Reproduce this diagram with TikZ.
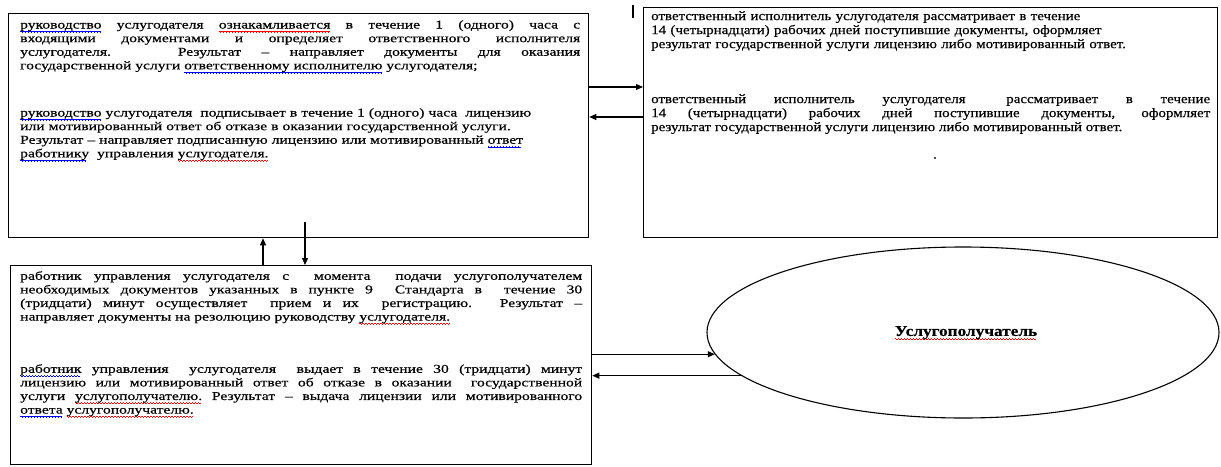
\documentclass[tikz,border=0pt]{standalone}
\usepackage{fontspec}
\setmainfont[FakeStretch=1.3,FakeBold=0.5]{Liberation Serif}
\newfontfamily\bfam[FakeStretch=1.15,FakeBold=0.5]{Liberation Serif}
\usepackage{xcolor}
\usetikzlibrary{arrows.meta,shapes.geometric}
\newcommand\wavecell{\rule[-3.0pt]{0.75pt}{0.7pt}\rule[-3.5pt]{0.75pt}{0.7pt}\rule[-4.0pt]{0.75pt}{0.7pt}\rule[-3.5pt]{0.75pt}{0.7pt}}
\newcommand\wv[2]{\setbox0\hbox{#2}\leavevmode\rlap{\textcolor{#1}{\hbox to\wd0{\leaders\hbox{\wavecell}\hfill}}}\box0\relax}
\newcommand\rwv[1]{\wv{red}{#1}}
\newcommand\bwv[1]{\wv{blue}{#1}}
\tolerance=10000
\hbadness=10000
\begin{document}
\begin{tikzpicture}[x=1pt,y=-1pt,
  box/.style={draw, line width=1.3pt, rectangle, inner sep=0pt, anchor=north west},
  txt/.style={anchor=north west, inner sep=0pt, text width=#1,
    font=\fontsize{12}{13.6}\selectfont},
  txtb/.style={anchor=north west, inner sep=0pt, text width=#1,
    font=\bfam\fontsize{13}{14}\selectfont},
  arr/.style={line width=1.1pt, -{Triangle[length=7pt,width=6pt]}},
  ell/.style={draw, line width=1.1pt, ellipse, inner sep=0pt}]
\useasboundingbox (0,0) rectangle (1221,466);
% boxes
\node[box, minimum width=580pt, minimum height=224pt] (A) at (8,13) {};
\node[box, minimum width=574pt, minimum height=230pt] (B) at (643,7) {};
\node[box, minimum width=581pt, minimum height=199pt] (C) at (10,265) {};
\node[ell, minimum width=512pt, minimum height=171pt] (E) at (963,332.5) {};
% texts
\node[txt=560pt, align=justify] (a1) at (20,20) {%
\bwv{руководство} услугодателя \rwv{ознакамливается} в течение 1 (одного) часа с\linebreak
входящими документами и определяет ответственного исполнителя\linebreak
услугодателя. \quad Результат – направляет документы для оказания\linebreak
государственной услуги \bwv{ответственному исполнителю} услугодателя;};
\node[txt=560pt, align=left] (a2) at (20,108) {%
\bwv{руководство} услугодателя \ подписывает в течение 1 (одного) часа \ лицензию\\
или мотивированный ответ об отказе в оказании государственной услуги.\\
Результат – направляет подписанную лицензию или мотивированный \bwv{ответ}\\
\bwv{работнику} \ управления \rwv{услугодателя.}};
\node[txtb=560pt, align=left] (b1) at (651,11) {%
ответственный исполнитель услугодателя рассматривает в течение\\
14 (четырнадцати) рабочих дней поступившие документы, оформляет\\
результат государственной услуги лицензию либо мотивированный ответ.};
\node[txtb=559pt, align=justify] (b2) at (651,94) {%
ответственный исполнитель услугодателя \quad рассматривает в течение\linebreak
14 (четырнадцати) рабочих дней поступившие документы, оформляет\linebreak
результат государственной услуги лицензию либо мотивированный ответ.};
\node[inner sep=0pt, font=\fontsize{12}{14}\selectfont] (dot) at (935,158) {.};
\node[txt=562pt, align=justify] (c1) at (20,271) {%
работник управления услугодателя с \ момента \ подачи услугополучателем\linebreak
необходимых документов указанных в пункте 9 \ Стандарта в \ течение 30\linebreak
(тридцати) минут осуществляет \ прием и их \ регистрацию. Результат –\linebreak
направляет документы на резолюцию руководству \rwv{услугодателя.}};
\node[txt=562pt, align=justify] (c2) at (20,364) {%
\bwv{работник} управления \ услугодателя \ выдает в течение 30 (тридцати) минут\linebreak
лицензию или мотивированный ответ об отказе в оказании \ государственной\linebreak
услуги \rwv{услугополучателю.} Результат – выдача лицензии или мотивированного\linebreak
\bwv{ответа} \rwv{услугополучателю.}};
\node[inner sep=0pt, font=\bfam\fontsize{15}{16}\selectfont\bfseries] (et) at (966,333) {\rwv{Услугополучатель}};
% stray tick
\coordinate (t1) at (633,5);
\coordinate (t2) at (633,18);
\draw[line width=1.3pt] (t1) -- (t2);
% connector levels
\coordinate (y1) at (0,87);
\coordinate (y2) at (0,117);
\coordinate (xu) at (263,0);
\coordinate (xd) at (305,0);
\coordinate (ds) at (305,222);
\draw[arr] (A.east |- y1) -- (B.west |- y1);
\draw[arr] (B.west |- y2) -- (A.east |- y2);
\draw[arr] (C.north -| xu) -- (A.south -| xu);
\draw[arr] (ds) -- (C.north -| xd);
\draw[arr] (C.east |- E.185) -- (E.185);
\draw[arr] (E.191) -- (C.east |- E.191);
\end{tikzpicture}
\end{document}
